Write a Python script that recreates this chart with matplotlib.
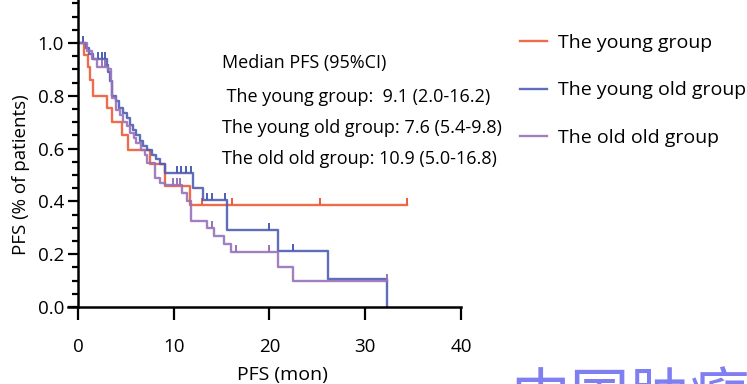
import matplotlib
matplotlib.use('agg')
import matplotlib.pyplot as plt
from matplotlib.markers import TICKUP

plt.rcParams['font.family'] = ['Open Sans', 'DejaVu Sans']

# step data: event times and survival after each event
young_t = [0, 0.6, 1.0, 1.3, 1.6, 3.0, 3.6, 4.6, 5.2, 7.5, 9.1, 11.7, 34.4]
young_s = [1.0, 0.955, 0.91, 0.86, 0.80, 0.754, 0.70, 0.65, 0.595, 0.54, 0.46, 0.386, 0.386]
young_cens_t = [12.9, 16.1, 25.3, 34.4]
young_cens_s = [0.386, 0.386, 0.386, 0.386]

yold_t = [0, 0.8, 1.2, 1.6, 3.0, 3.1, 3.3, 3.6, 4.0, 4.3, 4.7, 5.1, 5.4, 5.7, 6.1,
          6.5, 6.8, 7.2, 7.7, 8.1, 8.6, 9.1, 12.0, 13.1, 15.6, 20.9, 26.1, 32.3]
yold_s = [1.0, 0.98, 0.96, 0.94, 0.915, 0.89, 0.855, 0.80, 0.78, 0.754, 0.735, 0.716,
          0.69, 0.67, 0.65, 0.63, 0.61, 0.595, 0.575, 0.56, 0.54, 0.507, 0.45, 0.405,
          0.29, 0.212, 0.106, 0.0]
yold_cens_t = [0.5, 2.1, 2.5, 2.8, 10.3, 10.8, 11.3, 11.8, 13.5, 14.0, 15.4, 20.0, 22.5]
yold_cens_s = [1.0, 0.94, 0.94, 0.94, 0.507, 0.507, 0.507, 0.507, 0.405, 0.405, 0.405,
               0.29, 0.212]

oold_t = [0, 0.9, 1.5, 2.0, 3.1, 3.5, 3.6, 4.0, 4.4, 4.7, 5.1, 5.4, 5.8, 6.1, 6.6, 7.0,
          7.2, 8.0, 8.6, 9.1, 10.9, 11.4, 11.8, 13.5, 14.2, 15.2, 16.0, 20.9, 22.5, 32.3]
oold_s = [1.0, 0.97, 0.94, 0.91, 0.90, 0.855, 0.79, 0.746, 0.727, 0.70, 0.686, 0.66,
          0.64, 0.62, 0.595, 0.575, 0.545, 0.49, 0.47, 0.462, 0.43, 0.40, 0.325, 0.30,
          0.27, 0.24, 0.21, 0.152, 0.10, 0.10]
oold_cens_t = [2.5, 2.8, 9.9, 10.3, 10.7, 14.0, 16.5, 20.0, 32.3]
oold_cens_s = [0.91, 0.91, 0.462, 0.462, 0.462, 0.30, 0.21, 0.21, 0.10]

labels = ['The young group', 'The young old group', 'The old old group']
colors = ['#EE5B38', '#4D5DB4', '#9872B8']

median_lines = ['Median PFS (95%CI)',
                ' The young group:  9.1 (2.0-16.2)',
                'The young old group: 7.6 (5.4-9.8)',
                'The old old group: 10.9 (5.0-16.8)']

fig = plt.figure(figsize=(7.47, 3.84), dpi=100)
ax = fig.add_axes([0.1044, 0.2005, 0.5127, 0.7995])

series = [(young_t, young_s, young_cens_t, young_cens_s),
          (yold_t, yold_s, yold_cens_t, yold_cens_s),
          (oold_t, oold_s, oold_cens_t, oold_cens_s)]
for (t, s, ct, cs), lab, c in zip(series, labels, colors):
    ax.step(t, s, where='post', color=c, lw=1.7, label=lab, alpha=0.9)
    ax.plot(ct, cs, ls='none', marker=TICKUP, ms=5, mew=1.4, color=c)

ax.set_xlim(0, 40)
ax.set_ylim(0, 1.163)
ax.set_xticks([0, 10, 20, 30, 40])
ax.set_yticks([0.0, 0.2, 0.4, 0.6, 0.8, 1.0])
ax.set_yticklabels(['0.0', '0.2', '0.4', '0.6', '0.8', '1.0'])
ax.set_yticks([i * 0.05 for i in range(24)], minor=True)
ax.tick_params(axis='y', which='major', length=7, width=1.6, labelsize=13.5, pad=3)
ax.tick_params(axis='y', which='minor', length=4, width=1.6)
ax.tick_params(axis='x', which='major', length=9, width=1.6, labelsize=13.5, pad=13)
for side in ['top', 'right']:
    ax.spines[side].set_visible(False)
for side in ['left', 'bottom']:
    ax.spines[side].set_linewidth(1.8)
ax.spines['bottom'].set_bounds(-1.05, 40)
ax.set_xlabel('PFS (mon)', fontsize=14)
ax.set_ylabel('PFS (% of patients)', fontsize=13.5)
ax.xaxis.set_label_coords(0.535, -0.192)
ax.yaxis.set_label_coords(-0.125, 0.43)

ys = [63, 97, 128, 159]
for txt, y in zip(median_lines, ys):
    fig.text(222 / 747, 1 - y / 384, txt, fontsize=13, va='center', ha='left')

leg = ax.legend(loc='upper left', bbox_to_anchor=(506 / 747, 1 - 20 / 384),
                bbox_transform=fig.transFigure, frameon=False, fontsize=14,
                handlelength=1.4, handletextpad=0.55, labelspacing=1.53,
                borderpad=0.2)

fig.text(0.683, -0.125, '中国肿瘤时报', fontsize=43, color='#7F7FF2',
         family=['Noto Sans CJK SC', 'DejaVu Sans'], ha='left', va='bottom')

fig.savefig('out.png', dpi=100)
